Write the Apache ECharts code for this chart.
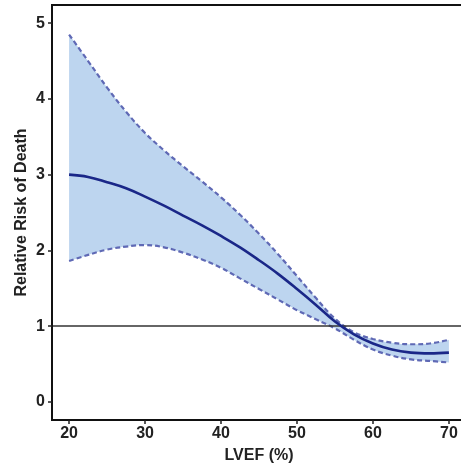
<!DOCTYPE html>
<html>
<head>
<meta charset="utf-8">
<script src="https://cdn.jsdelivr.net/npm/echarts@6/dist/echarts.min.js"></script>
<style>
html,body{margin:0;padding:0;background:#fff;}
#chart{width:461px;height:464px;}
</style>
</head>
<body>
<div id="chart"></div>
<script>
const lvef = [20, 22.5, 25, 27.5, 30, 32.5, 35, 37.5, 40, 42.5, 45, 47.5, 50, 52.5, 55, 57.5, 60, 62.5, 65, 67.5, 70];
const riskEstimate = [3.00, 2.97, 2.90, 2.82, 2.71, 2.59, 2.46, 2.33, 2.19, 2.04, 1.87, 1.69, 1.49, 1.28, 1.06, 0.89, 0.77, 0.69, 0.65, 0.64, 0.65];
const upperCI = [4.85, 4.50, 4.15, 3.83, 3.55, 3.32, 3.11, 2.91, 2.70, 2.47, 2.22, 1.95, 1.66, 1.37, 1.10, 0.92, 0.83, 0.78, 0.76, 0.77, 0.82];
const lowerCI = [1.86, 1.94, 2.01, 2.05, 2.07, 2.04, 1.97, 1.88, 1.77, 1.63, 1.49, 1.35, 1.21, 1.09, 0.97, 0.82, 0.69, 0.61, 0.56, 0.54, 0.52];
const xTicks = [20, 30, 40, 50, 60, 70];
const yTicks = [0, 1, 2, 3, 4, 5];
const refLevel = 1;

const pairs = arr => lvef.map((x, i) => [x, arr[i]]);
// [y, x] order so the stack is computed on the y dimension
const yFirst = arr => lvef.map((x, i) => [arr[i], x]);
const bandWidth = upperCI.map((u, i) => u - lowerCI[i]);

const chart = echarts.init(document.getElementById('chart'), null, {renderer: 'canvas'});
const labelStyle = {fontFamily: 'Liberation Sans', fontWeight: 'bold', fontSize: 16, color: '#222'};
chart.setOption({
  animation: false,
  grid: {left: 52, top: 5, bottom: 44, right: -5, outerBoundsMode: 'none', containLabel: false,
         show: true, borderColor: '#111', borderWidth: 2, backgroundColor: 'transparent'},
  xAxis: {
    type: 'value', min: 17.75, max: 72.25, z: 10,
    name: 'LVEF (%)', nameLocation: 'middle', nameGap: 28, nameMoveOverlap: false,
    nameTextStyle: labelStyle,
    axisLine: {show: true, onZero: false, lineStyle: {color: '#111', width: 2}},
    axisTick: {show: true, length: 4, lineStyle: {color: '#222', width: 1.5}, customValues: xTicks},
    axisLabel: Object.assign({margin: 6, customValues: xTicks}, labelStyle),
    splitLine: {show: false}
  },
  yAxis: {
    type: 'value', min: -0.24, max: 5.24, z: 10,
    name: 'Relative Risk of Death', nameLocation: 'middle', nameGap: 22, nameRotate: 90, nameMoveOverlap: false,
    nameTextStyle: labelStyle,
    axisLine: {show: true, onZero: false, lineStyle: {color: '#111', width: 2}},
    axisTick: {show: true, length: 4, lineStyle: {color: '#222', width: 1.5}, customValues: yTicks},
    axisLabel: Object.assign({margin: 7, customValues: yTicks}, labelStyle),
    splitLine: {show: false}
  },
  series: [
    {type: 'line', data: yFirst(lowerCI), encode: {x: 1, y: 0}, stack: 'band', smooth: 0.4, symbol: 'none', z: 1, silent: true,
     lineStyle: {opacity: 0}},
    {type: 'line', data: yFirst(bandWidth), encode: {x: 1, y: 0}, stack: 'band', smooth: 0.4, symbol: 'none', z: 1, silent: true,
     lineStyle: {opacity: 0}, areaStyle: {color: '#bdd5ef', opacity: 1}},
    {type: 'line', data: pairs(upperCI), smooth: 0.4, symbol: 'none', z: 3,
     lineStyle: {color: '#5f69b5', width: 2.2, type: [5, 3]}},
    {type: 'line', data: pairs(lowerCI), smooth: 0.4, symbol: 'none', z: 3,
     lineStyle: {color: '#5f69b5', width: 2.2, type: [5, 3]}},
    {type: 'line', data: pairs(riskEstimate), smooth: 0.4, symbol: 'none', z: 5,
     lineStyle: {color: '#1a2788', width: 2.6},
     markLine: {silent: true, symbol: 'none', label: {show: false},
       lineStyle: {color: '#333', width: 1.6, type: 'solid'},
       data: [{yAxis: refLevel}]}}
  ]
});
</script>
</body>
</html>
